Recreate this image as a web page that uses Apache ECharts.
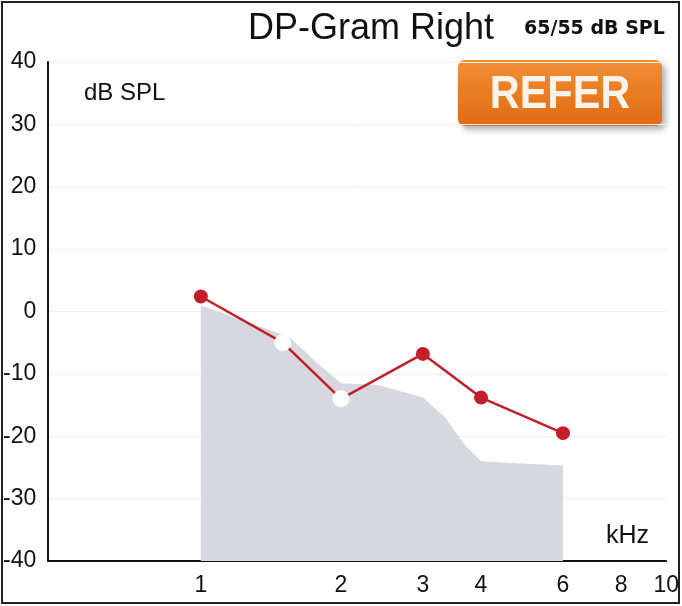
<!DOCTYPE html>
<html><head><meta charset="utf-8">
<script src="https://cdn.jsdelivr.net/npm/echarts@6/dist/echarts.min.js"></script>
<style>html,body{margin:0;padding:0;background:#fff}#c{width:682px;height:606px}</style>
</head><body><div id="c"></div>
<script>
// DP amplitude (dB SPL) at each f2 frequency (kHz)
const dpFreqs = [1, 1.5, 2, 3, 4, 6];
const dpLevels = [2.4, -5, -14, -6.8, -13.8, -19.5];
// points that did not pass (drawn white)
const whitePoints = [1.5, 2];
// noise floor
const noiseFreqs = [1, 1.25, 1.55, 1.75, 2, 2.4, 3, 3.35, 3.7, 4, 5, 6];
const noiseLevels = [1, -1.6, -4.1, -7.8, -11.5, -11.8, -13.8, -17, -21.5, -24, -24.4, -24.7];
// tick labels
const xTickValues = [1, 2, 3, 4, 6, 8, 10];
const yTickValues = [-40, -30, -20, -10, 0, 10, 20, 30, 40];

const chart = echarts.init(document.getElementById('c'), null, {renderer: 'canvas'});
const font = '"Liberation Sans", Arial, sans-serif';

const dpData = dpFreqs.map((f, i) => {
  const d = {value: [f, dpLevels[i]]};
  if (whitePoints.includes(f)) {
    d.itemStyle = {color: '#ffffff'};
    d.symbolSize = 17;
  }
  return d;
});

chart.setOption({
  animation: false,
  backgroundColor: '#ffffff',
  grid: {left: 48, right: 10, top: 62, bottom: 45, containLabel: false},
  title: [
    {text: 'DP-Gram Right', left: 366, top: 6, textAlign: 'center',
     textStyle: {fontFamily: font, fontSize: 36, fontWeight: 'normal', color: '#111'}},
    {text: '65/55 dB SPL', left: 519, top: 15,
     textStyle: {fontFamily: '"DejaVu Sans", sans-serif', fontSize: 19, fontWeight: 'bold', color: '#111'}}
  ],
  xAxis: {
    type: 'log', logBase: 10, min: 0.47, max: 10,
    axisLine: {show: true, onZero: false, lineStyle: {color: '#111', width: 2}},
    axisTick: {show: false},
    axisLabel: {customValues: xTickValues, fontFamily: font, fontSize: 23, color: '#111', margin: 13,
      formatter: v => String(Math.round(v * 100) / 100)},
    splitLine: {show: false},
    minorSplitLine: {show: false}
  },
  yAxis: {
    type: 'value', min: -40, max: 40, interval: 10,
    axisLine: {show: true, onZero: false, lineStyle: {color: '#111', width: 2}},
    axisTick: {show: false},
    axisLabel: {fontFamily: font, fontSize: 23, color: '#111', margin: 12,
      formatter: v => (yTickValues.includes(v) ? String(v) : '')},
    splitLine: {show: true, lineStyle: {color: '#f0f0f3', width: 1}}
  },
  series: [
    {
      type: 'line', name: 'noise',
      data: noiseFreqs.map((f, i) => [f, noiseLevels[i]]),
      showSymbol: false, symbol: 'none',
      lineStyle: {width: 0},
      areaStyle: {color: '#d7d7df', opacity: 1, origin: 'start'},
      z: 1, silent: true
    },
    {
      type: 'line', name: 'DP',
      data: dpData,
      symbol: 'circle', symbolSize: 14,
      lineStyle: {color: '#c21f2b', width: 2.5},
      itemStyle: {color: '#c21f2b'},
      z: 3
    }
  ],
  graphic: [
    {type: 'rect', shape: {x: 2, y: 2, width: 677, height: 601}, style: {fill: 'none', stroke: '#222', lineWidth: 2}, z: 10},
    {type: 'text', left: 84, top: 81, style: {text: 'dB SPL', font: '24px "Liberation Sans", Arial, sans-serif', fill: '#111'}},
    {type: 'text', left: 606, top: 524, style: {text: 'kHz', font: '25px "Liberation Sans", Arial, sans-serif', fill: '#111'}},
    {type: 'group', left: 458, top: 60, children: [
      {type: 'rect', shape: {x: 0, y: 0, width: 204, height: 66, r: 7},
       style: {fill: new echarts.graphic.LinearGradient(0, 0, 0, 1, [{offset: 0, color: '#f09038'}, {offset: 0.5, color: '#ea7c22'}, {offset: 1, color: '#de6c16'}]),
               shadowBlur: 6, shadowOffsetX: 4, shadowOffsetY: 4, shadowColor: 'rgba(0,0,0,0.3)'}},
      {type: 'text', x: 102, y: 35, scaleX: 0.9, style: {text: 'REFER', font: 'bold 46px "Liberation Sans", Arial, sans-serif', fill: '#fbf3ea', align: 'center', verticalAlign: 'middle'}}
    ]}
  ]
});
</script></body></html>
